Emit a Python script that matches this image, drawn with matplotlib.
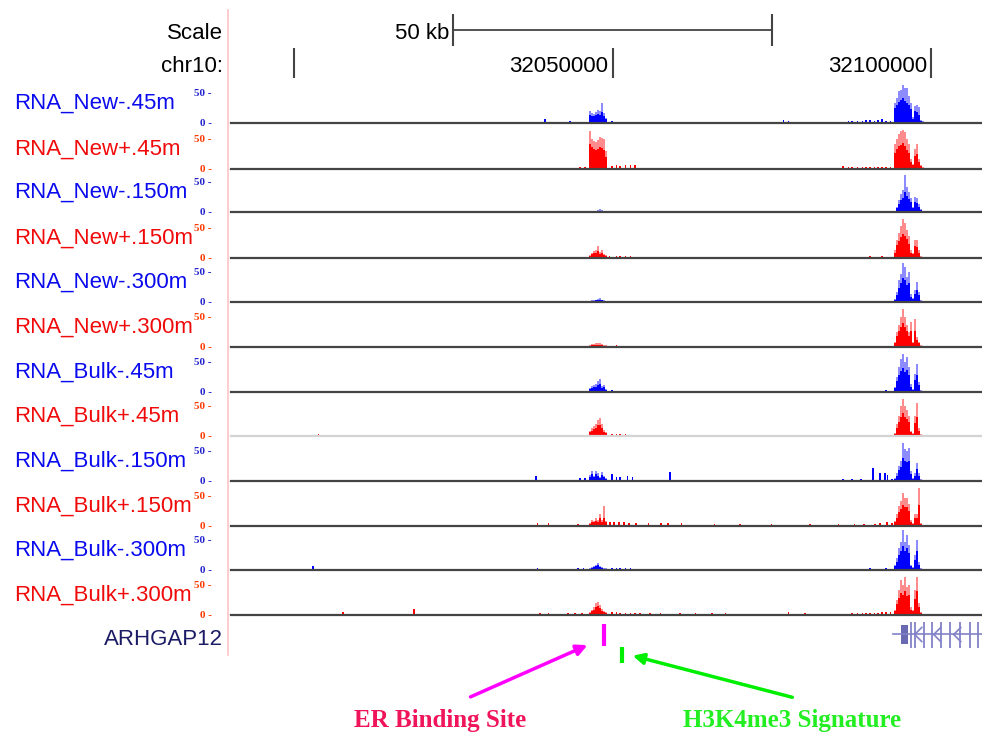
import matplotlib
matplotlib.use("Agg")
import matplotlib.pyplot as plt
from matplotlib.lines import Line2D
from matplotlib.patches import Rectangle, FancyArrowPatch
from matplotlib.path import Path

# ---------------------------------------------------------------- data
# genomic positions are kb offsets from chr10:32,000,000
CHROM_LABEL = "chr10:"
VIEW_KB = [-9.9, 108.0]
POS_TICKS_KB = [0, 50, 100]
POS_TICK_LABELS = ["", "32050000", "32100000"]
SCALE_BAR_KB = [25, 75]
SCALE_LABEL = "50 kb"
Y_TICKS = [0, 50]
Y_TICK_LABELS = ["0 -", "50 -"]

TRACK_NAMES = ["RNA_New-.45m", "RNA_New+.45m", "RNA_New-.150m", "RNA_New+.150m",
               "RNA_New-.300m", "RNA_New+.300m", "RNA_Bulk-.45m", "RNA_Bulk+.45m",
               "RNA_Bulk-.150m", "RNA_Bulk+.150m", "RNA_Bulk-.300m", "RNA_Bulk+.300m"]
TRACK_STRAND = ["-", "+", "-", "+", "-", "+", "-", "+", "-", "+", "-", "+"]

PEAK1_KB = [46.47, 46.78, 47.10, 47.41, 47.73, 48.04, 48.36, 48.67, 48.99]
PEAK2_KB = [94.36, 94.67, 94.99, 95.30, 95.62, 95.93, 96.25, 96.56, 96.87,
            97.19, 97.50, 97.82, 98.13, 98.45, 98.76]

NEW_M45_P1 = [20, 17, 15, 18, 22, 20, 33, 17, 8]
NEW_M45_P1_MEAN = [14, 12, 12, 14, 15, 14, 18, 12, 6]
NEW_M45_P2 = [33, 42, 53, 55, 63, 58, 58, 45, 33, 10, 28, 30, 27, 5, 3]
NEW_M45_P2_MEAN = [25, 30, 35, 38, 42, 36, 33, 30, 23, 7, 20, 18, 14, 4, 2]
NEW_M45_BG_KB = [2.7, 28.4, 39.4, 41.8, 42.5, 43.3, 44.1, 45.2, 49.9, 50.6, 51.2, 52.0, 52.8,
                 58.1, 59.3, 60.6, 63.7, 66.9, 69.6, 70.0, 76.8, 77.6, 78.7, 80.2, 81.3, 82.6,
                 86.2, 87.0, 87.6, 88.5, 89.2, 89.8, 90.4, 91.1, 91.7, 92.3, 92.9, 93.6]
NEW_M45_BG = [2, 2, 6, 2, 2, 3, 2, 2, 3, 2, 2, 2, 2, 2, 2, 2, 2, 2, 2, 2, 5, 3, 2, 2, 2, 2,
              2, 3, 3, 3, 4, 5, 5, 4, 5, 6, 4, 3]

NEW_P45_P1 = [63, 50, 47, 45, 48, 53, 52, 50, 30]
NEW_P45_P1_MEAN = [42, 36, 34, 32, 34, 37, 35, 32, 20]
NEW_P45_P2 = [42, 50, 58, 63, 65, 62, 50, 42, 17, 8, 33, 42, 17, 7, 3]
NEW_P45_P2_MEAN = [27, 33, 38, 40, 43, 38, 32, 27, 12, 6, 22, 25, 12, 5, 2]
NEW_P45_BG_KB = [38.6, 40.7, 43.0, 44.9, 45.7, 49.9, 50.6, 51.2, 52.0, 52.8, 53.5, 59.3, 63.7,
                 68.1, 70.9, 75.1, 79.8, 81.3, 82.6, 84.9, 86.2, 87.0, 87.6, 88.5, 89.2, 89.8,
                 90.4, 91.1, 91.7, 92.3, 92.9, 93.6]
NEW_P45_BG = [2, 2, 2, 3, 3, 5, 6, 5, 6, 7, 6, 2, 2, 2, 2, 2, 2, 2, 2, 2, 5, 3, 4, 4, 3, 3,
              4, 3, 3, 4, 3, 3]

NEW_M150_P1 = [0, 2, 0, 2, 3, 5, 3, 0, 0]
NEW_M150_P1_MEAN = [0, 1, 0, 1, 2, 2, 2, 0, 0]
NEW_M150_P2 = [2, 8, 20, 30, 37, 62, 42, 33, 23, 8, 25, 23, 13, 5, 2]
NEW_M150_P2_MEAN = [1, 6, 14, 20, 24, 33, 26, 22, 16, 6, 16, 15, 9, 3, 1]
NEW_M150_BG_KB = [51.2, 89.5, 93.6]
NEW_M150_BG = [2, 2, 2]

NEW_P150_P1 = [5, 8, 12, 13, 20, 10, 13, 7, 5]
NEW_P150_P1_MEAN = [4, 6, 8, 9, 12, 7, 8, 5, 3]
NEW_P150_P2 = [13, 30, 42, 53, 65, 58, 47, 37, 13, 8, 30, 30, 13, 3, 2]
NEW_P150_P2_MEAN = [9, 21, 29, 35, 40, 37, 31, 24, 9, 6, 20, 18, 9, 2, 1]
NEW_P150_BG_KB = [7.2, 13.5, 36.6, 39.7, 40.7, 42.5, 43.8, 45.4, 49.5, 50.6, 51.2, 52.0, 52.8,
                  53.5, 59.3, 65.6, 70.0, 72.1, 75.7, 76.4, 83.1, 85.7, 87.0, 88.5, 89.8, 90.4,
                  91.1, 91.7, 92.3, 92.9, 93.6]
NEW_P150_BG = [2, 2, 2, 2, 2, 2, 2, 2, 3, 3, 3, 3, 3, 2, 2, 2, 2, 2, 2, 2, 2, 2, 2, 2, 2, 3,
               2, 2, 3, 2, 2]

NEW_M300_P1 = [2, 3, 3, 4, 5, 7, 4, 3, 2]
NEW_M300_P1_MEAN = [1, 2, 2, 3, 3, 4, 3, 2, 1]
NEW_M300_P2 = [5, 17, 37, 47, 65, 58, 42, 50, 13, 7, 20, 33, 17, 3, 2]
NEW_M300_P2_MEAN = [4, 12, 24, 31, 40, 37, 29, 31, 9, 5, 14, 20, 12, 2, 1]
NEW_M300_BG_KB = [8.0, 41.0, 44.9, 50.6, 51.2, 52.0, 52.8, 63.7, 73.2, 90.4, 91.7, 92.9, 93.6]
NEW_M300_BG = [2, 2, 2, 2, 2, 2, 2, 2, 2, 2, 2, 2, 2]

NEW_P300_P1 = [3, 5, 5, 7, 7, 6, 5, 4, 3]
NEW_P300_P1_MEAN = [2, 3, 3, 4, 4, 4, 3, 2, 2]
NEW_P300_P2 = [8, 25, 37, 50, 63, 50, 37, 25, 42, 8, 47, 17, 8, 3, 2]
NEW_P300_P2_MEAN = [6, 18, 26, 33, 40, 33, 26, 18, 26, 6, 27, 12, 6, 2, 1]
NEW_P300_BG_KB = [45.2, 49.5, 50.6, 51.2, 52.0, 52.8, 53.5, 88.5, 90.4, 91.7, 92.9, 93.6]
NEW_P300_BG = [2, 2, 3, 2, 2, 2, 2, 2, 2, 2, 2, 2]

BULK_M45_P1 = [7, 10, 12, 13, 18, 22, 10, 12, 5]
BULK_M45_P1_MEAN = [5, 7, 8, 9, 12, 14, 7, 8, 4]
BULK_M45_P2 = [8, 25, 42, 55, 63, 50, 58, 42, 13, 5, 30, 47, 17, 3, 2]
BULK_M45_P2_MEAN = [6, 18, 29, 35, 40, 33, 37, 29, 9, 4, 20, 29, 12, 2, 1]
BULK_M45_BG_KB = [40.2, 42.5, 45.2, 49.9, 50.6, 51.2, 52.0, 88.5, 89.8, 90.4, 91.7, 92.9, 93.6]
BULK_M45_BG = [2, 2, 2, 3, 2, 2, 2, 2, 2, 2, 2, 3, 2]

BULK_P45_P1 = [8, 13, 17, 20, 27, 30, 20, 10, 7]
BULK_P45_P1_MEAN = [6, 9, 12, 14, 18, 19, 14, 7, 5]
BULK_P45_P2 = [5, 20, 33, 50, 62, 50, 43, 33, 8, 5, 33, 55, 13, 3, 2]
BULK_P45_P2_MEAN = [4, 14, 23, 32, 38, 32, 29, 23, 6, 4, 21, 32, 9, 2, 1]
BULK_P45_BG_KB = [3.8, 5.7, 36.0, 39.4, 42.5, 44.9, 49.9, 50.6, 51.2, 52.0, 52.8, 53.5, 86.2,
                  89.8, 90.4, 91.7, 92.9, 93.6]
BULK_P45_BG = [3, 2, 2, 2, 2, 2, 4, 3, 4, 3, 2, 2, 2, 2, 2, 2, 2, 2]

BULK_M150_P1 = [10, 17, 8, 17, 13, 7, 15, 8, 5]
BULK_M150_P1_MEAN = [7, 11, 6, 11, 9, 5, 10, 6, 4]
BULK_M150_P2 = [5, 13, 25, 33, 63, 53, 50, 55, 17, 5, 13, 30, 13, 3, 2]
BULK_M150_P2_MEAN = [4, 9, 18, 23, 38, 34, 32, 34, 12, 4, 9, 20, 9, 2, 1]
BULK_M150_BG_KB = [7.2, 38.0, 44.1, 44.9, 45.7, 49.9, 50.6, 51.2, 52.3, 53.1, 54.3, 59.0, 66.9,
                   80.2, 83.4, 86.2, 87.6, 89.0, 90.9, 92.0, 92.8, 93.2, 93.9]
BULK_M150_BG = [2, 8, 2, 5, 5, 12, 7, 7, 8, 7, 2, 15, 2, 2, 2, 3, 3, 4, 22, 13, 13, 10, 3]

BULK_P150_P1 = [5, 10, 8, 13, 10, 20, 10, 33, 8]
BULK_P150_P1_MEAN = [4, 7, 6, 9, 7, 13, 7, 13, 6]
BULK_P150_P2 = [8, 20, 33, 42, 55, 47, 47, 37, 10, 5, 20, 20, 63, 5, 2]
BULK_P150_P2_MEAN = [6, 14, 23, 28, 35, 31, 31, 25, 7, 4, 14, 14, 35, 3, 1]
BULK_P150_BG_KB = [38.2, 39.9, 44.6, 49.6, 50.2, 51.0, 51.8, 52.6, 53.7, 55.6, 57.6, 58.7, 60.8,
                   66.0, 70.0, 75.0, 81.0, 85.5, 88.0, 89.5, 91.2, 92.0, 93.1, 93.9]
BULK_P150_BG = [5, 5, 3, 7, 7, 7, 7, 5, 5, 5, 5, 5, 5, 3, 3, 3, 3, 3, 3, 3, 3, 5, 7, 5]

BULK_M300_P1 = [3, 5, 7, 8, 12, 7, 5, 3, 3]
BULK_M300_P1_MEAN = [2, 4, 5, 6, 8, 5, 4, 2, 2]
BULK_M300_P2 = [8, 20, 37, 47, 67, 47, 58, 42, 8, 5, 25, 50, 13, 3, 2]
BULK_M300_P2_MEAN = [6, 14, 25, 31, 40, 31, 36, 29, 6, 4, 17, 31, 9, 2, 1]
BULK_M300_BG_KB = [3.0, 38.2, 39.4, 40.7, 41.3, 44.6, 45.4, 49.9, 50.6, 51.2, 52.0, 52.8, 53.5,
                   55.1, 57.9, 60.1, 63.7, 70.0, 76.0, 84.9, 87.6, 89.2, 90.4, 91.7, 92.9, 93.6]
BULK_M300_BG = [7, 3, 2, 2, 2, 3, 4, 3, 3, 3, 3, 3, 2, 2, 2, 2, 2, 2, 2, 2, 2, 2, 3, 2, 3, 2]

BULK_P300_P1 = [5, 8, 13, 20, 22, 17, 10, 7, 5]
BULK_P300_P1_MEAN = [4, 6, 9, 14, 15, 12, 7, 5, 4]
BULK_P300_P2 = [8, 25, 42, 58, 50, 63, 47, 50, 13, 8, 42, 63, 20, 5, 2]
BULK_P300_P2_MEAN = [6, 18, 29, 37, 33, 40, 31, 33, 9, 6, 27, 40, 14, 3, 1]
BULK_P300_BG_KB = [7.7, 18.8, 38.6, 39.9, 41.1, 43.0, 44.1, 45.2, 49.9, 50.6, 51.2, 52.0, 52.8,
                   53.5, 54.3, 55.9, 57.5, 60.6, 63.0, 63.7, 65.6, 67.7, 77.6, 80.2, 86.2, 87.6,
                   88.5, 89.2, 89.8, 90.4, 91.1, 91.7, 92.3, 92.9, 93.6]
BULK_P300_BG = [5, 10, 3, 3, 2, 3, 3, 3, 5, 5, 4, 4, 4, 3, 3, 3, 3, 3, 3, 2, 3, 3, 5, 3, 2, 3,
                3, 4, 4, 4, 4, 4, 5, 5, 5]

GENE_NAME = "ARHGAP12"
GENE_SPAN_KB = [94.0, 108.0]
GENE_UTR_KB = [95.3, 96.4]
GENE_EXONS_KB = [96.9, 97.5, 98.9, 100.2, 101.6, 103.0, 104.6, 106.1, 107.4]
GENE_CHEVRONS_KB = [97.9, 101.0, 104.0]
ER_SITE_KB = 48.7
H3K4ME3_KB = 51.5
ER_LABEL = "ER Binding Site"
H3K4_LABEL = "H3K4me3 Signature"

TRACKS = [
    (NEW_M45_P1, NEW_M45_P1_MEAN, NEW_M45_P2, NEW_M45_P2_MEAN, NEW_M45_BG_KB, NEW_M45_BG),
    (NEW_P45_P1, NEW_P45_P1_MEAN, NEW_P45_P2, NEW_P45_P2_MEAN, NEW_P45_BG_KB, NEW_P45_BG),
    (NEW_M150_P1, NEW_M150_P1_MEAN, NEW_M150_P2, NEW_M150_P2_MEAN, NEW_M150_BG_KB, NEW_M150_BG),
    (NEW_P150_P1, NEW_P150_P1_MEAN, NEW_P150_P2, NEW_P150_P2_MEAN, NEW_P150_BG_KB, NEW_P150_BG),
    (NEW_M300_P1, NEW_M300_P1_MEAN, NEW_M300_P2, NEW_M300_P2_MEAN, NEW_M300_BG_KB, NEW_M300_BG),
    (NEW_P300_P1, NEW_P300_P1_MEAN, NEW_P300_P2, NEW_P300_P2_MEAN, NEW_P300_BG_KB, NEW_P300_BG),
    (BULK_M45_P1, BULK_M45_P1_MEAN, BULK_M45_P2, BULK_M45_P2_MEAN, BULK_M45_BG_KB, BULK_M45_BG),
    (BULK_P45_P1, BULK_P45_P1_MEAN, BULK_P45_P2, BULK_P45_P2_MEAN, BULK_P45_BG_KB, BULK_P45_BG),
    (BULK_M150_P1, BULK_M150_P1_MEAN, BULK_M150_P2, BULK_M150_P2_MEAN, BULK_M150_BG_KB, BULK_M150_BG),
    (BULK_P150_P1, BULK_P150_P1_MEAN, BULK_P150_P2, BULK_P150_P2_MEAN, BULK_P150_BG_KB, BULK_P150_BG),
    (BULK_M300_P1, BULK_M300_P1_MEAN, BULK_M300_P2, BULK_M300_P2_MEAN, BULK_M300_BG_KB, BULK_M300_BG),
    (BULK_P300_P1, BULK_P300_P1_MEAN, BULK_P300_P2, BULK_P300_P2_MEAN, BULK_P300_BG_KB, BULK_P300_BG),
]

# ---------------------------------------------------------------- layout / style
W, H = 982, 733
SANS = ["Liberation Sans", "DejaVu Sans"]
SERIF = ["Liberation Serif", "DejaVu Serif"]
X0, X1 = 231, 982
BASELINES = [123, 169, 212, 258, 302, 347, 392, 436, 481, 526, 570, 615]
STYLE = {
    "-": dict(dark="#0000ff", light="#8c8cff", name="#0a0aee", tick="#2424d0"),
    "+": dict(dark="#ff0000", light="#ff8c8c", name="#f00a0a", tick="#ff3a00"),
}

fig = plt.figure(figsize=(W / 100, H / 100), dpi=100)
fig.patch.set_facecolor("white")


def rect(x0, y0, x1, y1):
    return [x0 / W, 1 - y1 / H, (x1 - x0) / W, (y1 - y0) / H]


def clean(ax):
    for s in ax.spines.values():
        s.set_visible(False)
    ax.set_xticks([])
    ax.patch.set_alpha(0)


# ruler
rax = fig.add_axes(rect(X0, 0, X1, 85))
clean(rax)
rax.set_yticks([])
rax.set_xlim(*VIEW_KB)
rax.set_ylim(85, 0)
rax.plot(SCALE_BAR_KB, [30, 30], color="#444444", lw=1.3)
rax.vlines(SCALE_BAR_KB, 14, 46, color="#444444", lw=1.5)
rax.annotate(SCALE_LABEL, xy=(SCALE_BAR_KB[0], 39), xytext=(-4, 0), textcoords="offset pixels",
             ha="right", va="baseline", fontsize=16, family=SANS, color="black")
rax.vlines(POS_TICKS_KB, 48, 78, color="#444444", lw=1.5)
for kb, lab in zip(POS_TICKS_KB, POS_TICK_LABELS):
    if lab:
        rax.annotate(lab, xy=(kb, 72), xytext=(-4, 0), textcoords="offset pixels",
                     ha="right", va="baseline", fontsize=16, family=SANS, color="black")
fig.text(223 / W, 1 - 39 / H, "Scale", ha="right", va="baseline", fontsize=16, family=SANS)
fig.text(223 / W, 1 - 72 / H, CHROM_LABEL, ha="right", va="baseline", fontsize=16, family=SANS)

# pink separator
fig.add_artist(Line2D([228 / W, 228 / W], [1 - 10 / H, 1 - 655 / H], color="#ffc4c4", lw=1.2))

# signal tracks
for i, (name, strand, data) in enumerate(zip(TRACK_NAMES, TRACK_STRAND, TRACKS)):
    p1, p1m, p2, p2m, bgk, bgh = data
    st = STYLE[strand]
    b = BASELINES[i]
    ax = fig.add_axes(rect(X0, b - 42, X1, b + 1))
    clean(ax)
    ax.set_xlim(*VIEW_KB)
    ax.set_ylim(-1.67, 70)
    ax.bar(PEAK1_KB, p1, width=0.314, color=st["light"], linewidth=0)
    ax.bar(PEAK2_KB, p2, width=0.314, color=st["light"], linewidth=0)
    ax.bar(PEAK1_KB, p1m, width=0.314, color=st["dark"], linewidth=0)
    ax.bar(PEAK2_KB, p2m, width=0.314, color=st["dark"], linewidth=0)
    ax.bar(bgk, bgh, width=0.22, color=st["dark"], linewidth=0)
    base_col = "#d4d4d4" if i == 7 else "#444444"
    ax.axhline(0, color=base_col, lw=1.6, clip_on=False)
    ax.set_yticks(Y_TICKS)
    ax.set_yticklabels(Y_TICK_LABELS, fontsize=8, fontweight="bold", family=SERIF, color=st["tick"])
    ax.tick_params(axis="y", length=0, pad=14)
    fig.text(14 / W, 1 - (b - 14) / H, name, ha="left", va="baseline", fontsize=16,
             family=SANS, color=st["name"])

# gene track
gax = fig.add_axes(rect(X0, 618, X1, 700))
clean(gax)
gax.set_yticks([])
gax.set_xlim(*VIEW_KB)
gax.set_ylim(700, 618)
gcol = "#8282c8"
gax.plot(GENE_SPAN_KB, [634, 634], color=gcol, lw=1.2)
gax.add_patch(Rectangle((GENE_UTR_KB[0], 625), GENE_UTR_KB[1] - GENE_UTR_KB[0], 19,
                        facecolor="#6a6ab4", edgecolor="none"))
gax.vlines(GENE_EXONS_KB, 622, 648, color=gcol, lw=1.3)
chev = Path([(0.5, 1), (-0.5, 0), (0.5, -1)], [Path.MOVETO, Path.LINETO, Path.LINETO])
gax.plot(GENE_CHEVRONS_KB, [634] * len(GENE_CHEVRONS_KB), linestyle="none", marker=chev,
         markersize=11, markerfacecolor="none", markeredgecolor=gcol, markeredgewidth=1.2)
fig.text(223 / W, 1 - 645 / H, GENE_NAME, ha="right", va="baseline", fontsize=16,
         family=SANS, color="#1c1c66")

gax.vlines([ER_SITE_KB], 624, 646, color="#ff00ff", lw=3)
gax.vlines([H3K4ME3_KB], 647, 663, color="#00ee00", lw=3)

fig.add_artist(FancyArrowPatch(
    (468, H - 698), (590, H - 644), transform=None, arrowstyle="-|>", mutation_scale=16,
    color="#ff00ff", lw=2.5))
fig.add_artist(FancyArrowPatch(
    (795, H - 698), (630, H - 655), transform=None, arrowstyle="-|>", mutation_scale=16,
    color="#00ee00", lw=2.5))

fig.text(440 / W, 1 - 727 / H, ER_LABEL, ha="center", va="baseline", fontsize=18,
         fontweight="bold", family=SERIF, color="#f0145a")
fig.text(792 / W, 1 - 727 / H, H3K4_LABEL, ha="center", va="baseline", fontsize=18,
         fontweight="bold", family=SERIF, color="#22ee22")

fig.savefig("out.png", dpi=100, facecolor="white")
